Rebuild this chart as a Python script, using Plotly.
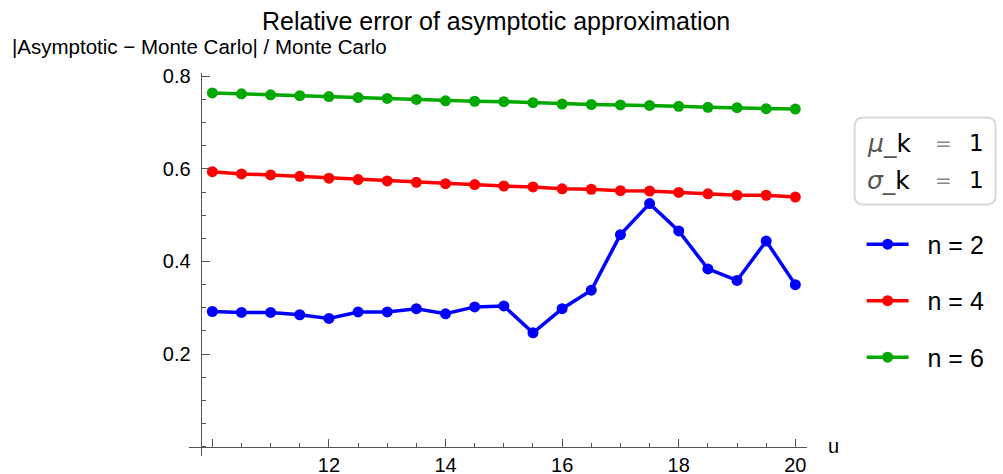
import plotly.graph_objects as go

u = [10 + 0.5 * i for i in range(21)]
n2 = [0.292, 0.290, 0.290, 0.285, 0.277, 0.291, 0.291, 0.298, 0.287, 0.302, 0.304,
      0.246, 0.298, 0.338, 0.458, 0.525, 0.466, 0.384, 0.359, 0.444, 0.350]
n4 = [0.594, 0.589, 0.587, 0.584, 0.580, 0.577, 0.574, 0.571, 0.568, 0.566, 0.563,
      0.561, 0.557, 0.556, 0.553, 0.552, 0.549, 0.546, 0.543, 0.543, 0.539]
n6 = [0.764, 0.762, 0.760, 0.758, 0.756, 0.754, 0.752, 0.750, 0.747, 0.746, 0.745,
      0.743, 0.740, 0.739, 0.738, 0.737, 0.735, 0.733, 0.732, 0.730, 0.729]
series = [("n = 2", n2, "#0000ff"), ("n = 4", n4, "#ff0000"), ("n = 6", n6, "#00a800")]
x_ticks = [10, 12, 14, 16, 18, 20]
x_ticktext = ["", "12", "14", "16", "18", "20"]
y_ticks = [0.2, 0.4, 0.6, 0.8]
y_ticktext = ["0.2", "0.4", "0.6", "0.8"]

W, H = 1003, 474
L, R, T, B = 189.4, 807.4, 72.5, 455.8
XR = [9.6, 20.2]
YR = [-0.02, 0.807]


def px(xp):
    return (xp - L) / (R - L)


def py(yp):
    return (B - yp) / (B - T)


fig = go.Figure()
for i, (name, vals, col) in enumerate(series):
    fig.add_trace(go.Scatter(x=u, y=vals, name="  " + name, mode="lines+markers",
                             line=dict(color=col, width=3.5),
                             marker=dict(color=col, size=11),
                             legendgroup=f"g{i}"))

axcol = "#555555"
fig.update_layout(
    width=W, height=H,
    margin=dict(l=L, r=W - R, t=T, b=H - B, pad=0, autoexpand=False),
    paper_bgcolor="white", plot_bgcolor="white",
    font=dict(family="Liberation Sans, Arial", color="black"),
    showlegend=True,
    legend=dict(x=px(862), y=py(221), xanchor="left", yanchor="top",
                font=dict(size=25, color="black"), tracegroupgap=21,
                itemwidth=42, bgcolor="rgba(0,0,0,0)"),
    xaxis=dict(range=XR, showgrid=False, zeroline=False, showline=True,
               automargin=False,
               linecolor=axcol, linewidth=1, anchor="free",
               position=(0 - YR[0]) / (YR[1] - YR[0]),
               tickmode="array", tickvals=x_ticks, ticktext=x_ticktext,
               ticks="inside", ticklen=8, tickcolor=axcol, tickwidth=1,
               tickfont=dict(size=20), ticklabelstandoff=0,
               minor=dict(dtick=0.5, tick0=0, ticks="inside", ticklen=4,
                          tickcolor=axcol, tickwidth=1)),
    yaxis=dict(range=YR, showgrid=False, zeroline=False, showline=True,
               automargin=False,
               linecolor=axcol, linewidth=1, anchor="free",
               position=(9.8 - XR[0]) / (XR[1] - XR[0]),
               tickmode="array", tickvals=y_ticks, ticktext=y_ticktext,
               ticks="inside", ticklen=8, tickcolor=axcol, tickwidth=1,
               tickfont=dict(size=20), ticklabelstandoff=6,
               minor=dict(dtick=0.05, tick0=0, ticks="inside", ticklen=4,
                          tickcolor=axcol, tickwidth=1)),
)

fig.add_annotation(text="Relative error of asymptotic approximation",
                   xref="paper", yref="paper", x=px(496), y=py(20),
                   xanchor="center", yanchor="middle", showarrow=False,
                   font=dict(size=25, color="black"))
fig.add_annotation(text="|Asymptotic \u2212 Monte Carlo| / Monte Carlo",
                   xref="paper", yref="paper", x=px(10), y=py(46),
                   xanchor="left", yanchor="middle", showarrow=False,
                   font=dict(size=20.5, color="black"))
fig.add_annotation(text="u", xref="paper", yref="paper", x=px(826), y=py(446),
                   xanchor="left", yanchor="middle", showarrow=False,
                   font=dict(size=20, color="black"))

# rounded box
r = 9
bx0, bx1, by0, by1 = 855, 996, 117, 204
path = (f"M {px(bx0 + r)},{py(by0)} L {px(bx1 - r)},{py(by0)} "
        f"Q {px(bx1)},{py(by0)} {px(bx1)},{py(by0 + r)} "
        f"L {px(bx1)},{py(by1 - r)} Q {px(bx1)},{py(by1)} {px(bx1 - r)},{py(by1)} "
        f"L {px(bx0 + r)},{py(by1)} Q {px(bx0)},{py(by1)} {px(bx0)},{py(by1 - r)} "
        f"L {px(bx0)},{py(by0 + r)} Q {px(bx0)},{py(by0)} {px(bx0 + r)},{py(by0)} Z")
fig.add_shape(type="path", path=path, xref="paper", yref="paper",
              line=dict(color="#d9d9d9", width=2), fillcolor="white")

for sym, yc in (("\u03bc", 143), ("\u03c3", 180)):
    fig.add_annotation(
        text=f"<span style='color:#555'><i>{sym}</i>_</span>k",
        xref="paper", yref="paper", x=px(865), y=py(yc),
        xanchor="left", yanchor="middle", showarrow=False,
        font=dict(size=25, color="black", family="DejaVu Sans"))
    fig.add_annotation(
        text="=", xref="paper", yref="paper", x=px(943.5), y=py(yc),
        xanchor="center", yanchor="middle", showarrow=False,
        font=dict(size=20, color="#888888", family="DejaVu Sans"))
    fig.add_annotation(
        text="1", xref="paper", yref="paper", x=px(977), y=py(yc),
        xanchor="center", yanchor="middle", showarrow=False,
        font=dict(size=23, color="black", family="DejaVu Sans"))

fig.write_html("out.html")
